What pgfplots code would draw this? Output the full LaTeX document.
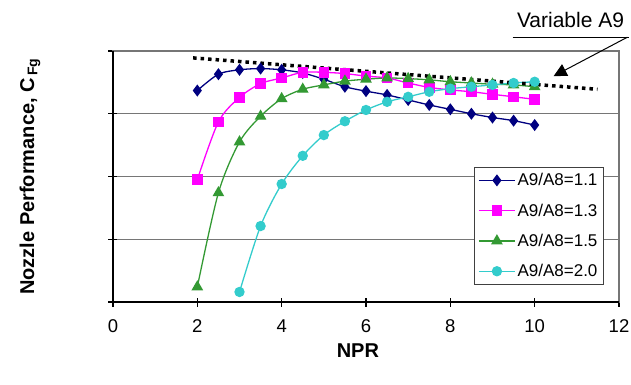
\documentclass[border=0pt]{standalone}
\usepackage{pgfplots}
\pgfplotsset{compat=1.18}
\usetikzlibrary{arrows.meta}
\usepackage{fontspec}
\setmainfont{Liberation Sans}
\definecolor{cblue}{RGB}{0,0,128}
\definecolor{cmag}{RGB}{255,0,255}
\definecolor{cgreen}{RGB}{51,153,51}
\definecolor{ccyan}{RGB}{51,204,204}
\definecolor{gridc}{RGB}{118,118,118}
\begin{document}
\begin{tikzpicture}
\useasboundingbox (-113bp,-83bp) rectangle (518bp,302bp);
\begin{axis}[
  at={(0,0)}, anchor=south west,
  scale only axis, width=506bp, height=251bp,
  xmin=0, xmax=12, ymin=0, ymax=4,
  xtick={0,2,...,12}, ytick={0,1,2,3,4}, yticklabels={},
  ymajorgrids, grid style={gridc, line width=1.2bp},
  axis line style={gridc, line width=1.2bp},
  tick style={black, line width=1.1bp},
  tick align=center, major tick length=9bp,
  xtick pos=bottom, ytick pos=left,
  clip=false,
  /pgf/number format/assume math mode=true,
  ticklabel style={font=\fontsize{18.5bp}{20bp}\selectfont},
  xticklabel style={yshift=-10bp},
  xlabel={NPR},
  ylabel={Nozzle Performance, C\textsubscript{\,Fg}},
  label style={font=\bfseries\fontsize{20bp}{24bp}\selectfont},
  xlabel style={at={(axis description cs:0.484,-0.195)}, anchor=center},
  ylabel style={at={(axis description cs:-0.164,0.5)}, anchor=center},
  legend style={at={(0.713,0.538)}, anchor=north west, draw=black!75, line width=1bp,
    fill=white, font=\fontsize{17bp}{19bp}\selectfont, row sep=12.5bp, inner sep=4bp},
  legend cell align=left,
  legend image code/.code={\draw[mark repeat=2,mark phase=2,#1] plot coordinates {(0bp,0bp) (18bp,0bp) (36bp,0bp)};},
  every axis plot/.append style={line width=1.3bp, smooth, tension=0.5},
]
\draw[black, line width=1.3bp] (rel axis cs:0,1) -- (rel axis cs:0,0) -- (rel axis cs:1,0);

\addplot[cblue, mark=diamond*, mark size=5bp, mark options={solid}] coordinates {
(2,3.37) (2.5,3.63) (3,3.70) (3.5,3.72) (4,3.70) (4.5,3.65) (5,3.55) (5.5,3.43) (6,3.36) (6.5,3.30) (7,3.22) (7.5,3.14) (8,3.07) (8.5,3.00) (9,2.94) (9.5,2.89) (10,2.82)};
\addlegendentry{A9/A8=1.1}
\addplot[cmag, mark=square*, mark size=4.6bp] coordinates {
(2,1.95) (2.5,2.87) (3,3.26) (3.5,3.48) (4,3.57) (4.5,3.66) (5,3.66) (5.5,3.64) (6,3.60) (6.5,3.57) (7,3.49) (7.5,3.42) (8,3.38) (8.5,3.35) (9,3.31) (9.5,3.27) (10,3.23)};
\addlegendentry{A9/A8=1.3}
\addplot[cgreen, mark=triangle*, mark size=5.5bp] coordinates {
(2,0.24) (2.5,1.74) (3,2.55) (3.5,2.96) (4,3.24) (4.5,3.39) (5,3.46) (5.5,3.52) (6,3.55) (6.5,3.57) (7,3.56) (7.5,3.54) (8,3.51) (8.5,3.49) (9,3.47) (9.5,3.46) (10,3.43)};
\addlegendentry{A9/A8=1.5}
\addplot[ccyan, mark=*, mark size=4.5bp] coordinates {
(3,0.16) (3.5,1.21) (4,1.88) (4.5,2.33) (5,2.66) (5.5,2.88) (6,3.06) (6.5,3.19) (7,3.27) (7.5,3.35) (8,3.40) (8.5,3.43) (9,3.46) (9.5,3.49) (10,3.51)};
\addlegendentry{A9/A8=2.0}

\addplot[black, line width=3.5bp, dash pattern=on 3.5bp off 4bp, no marks, forget plot] coordinates {(1.9,3.89) (11.49,3.39)};

\draw[black, line width=1.2bp] (axis cs:9.48,4.22) -- (axis cs:12.24,4.22);
\draw[black, line width=1bp, -{Triangle[length=13bp,width=13bp]}] (axis cs:12.2,4.22) -- (axis cs:10.45,3.60);
\node[font=\fontsize{21bp}{24bp}\selectfont] at (axis cs:10.85,4.5) {Variable A9};
\end{axis}
\end{tikzpicture}
\end{document}
